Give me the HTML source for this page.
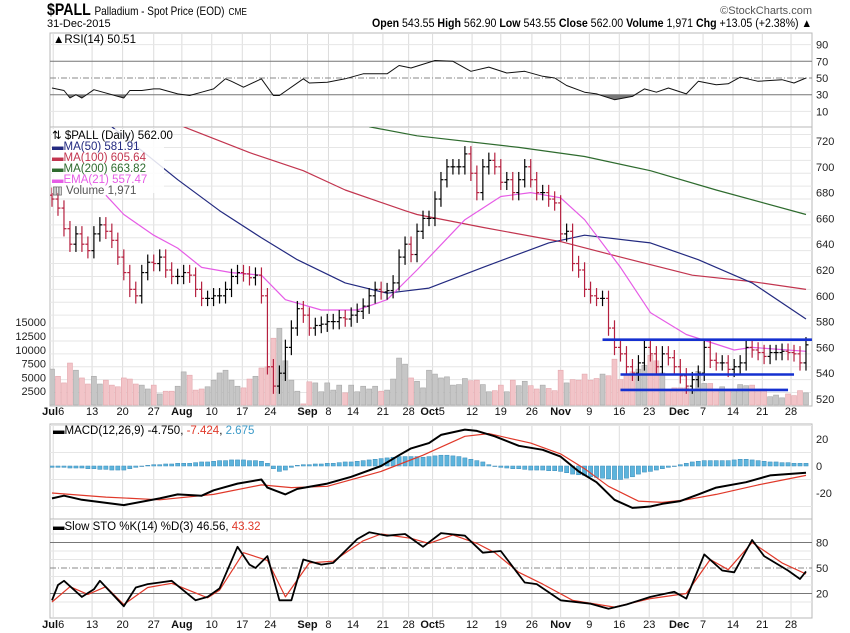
<!DOCTYPE html>
<html><head><meta charset="utf-8"><style>
body{margin:0;background:#fff;}
svg{display:block;font-family:"Liberation Sans Narrow","Liberation Sans",sans-serif;}
</style></head><body>
<svg id="chart" width="850" height="633" viewBox="0 0 850 633" xmlns="http://www.w3.org/2000/svg">
<defs>
<clipPath id="cRsi"><rect x="50" y="33" width="762" height="94"/></clipPath>
<clipPath id="cMain"><rect x="50" y="127" width="762" height="279"/></clipPath>
<clipPath id="cMacd"><rect x="50" y="424" width="762" height="95"/></clipPath>
<clipPath id="cSto"><rect x="50" y="519" width="762" height="99"/></clipPath>
<clipPath id="cLow"><rect x="50" y="95" width="762" height="32"/></clipPath>
</defs>
<text x="47" y="15" font-size="17" font-weight="bold" textLength="200" lengthAdjust="spacingAndGlyphs">$PALL <tspan font-size="12" font-weight="normal">Palladium - Spot Price (EOD)</tspan> <tspan font-size="10" font-weight="normal">CME</tspan></text>
<text x="812" y="14" font-size="11" fill="#555" text-anchor="end">©StockCharts.com</text>
<text x="47" y="27" font-size="11">31-Dec-2015</text>
<text x="372" y="27" font-size="11.5" textLength="440" lengthAdjust="spacingAndGlyphs"><tspan font-weight="bold">Open</tspan> 543.55 <tspan font-weight="bold">High</tspan> 562.90 <tspan font-weight="bold">Low</tspan> 543.55 <tspan font-weight="bold">Close</tspan> 562.00 <tspan font-weight="bold">Volume</tspan> 1,971 <tspan font-weight="bold">Chg</tspan> +13.05 (+2.38%) ▲</text>
<g id="layer"></g>
</svg>
<script>
const closes=[675,668,652,640,648,640,635,648,655,650,643,630,618,605,600,618,626,625,630,620,615,615,618,616,605,598,598,600,600,605,615,618,617,614,616,600,545,530,540,560,575,590,585,575,577,578,580,580,583,582,585,588,592,600,605,603,604,610,630,640,632,650,660,660,675,690,700,700,700,710,695,680,700,705,700,688,690,680,690,700,690,680,680,675,672,648,650,625,620,605,600,598,598,575,560,555,545,540,548,560,555,545,555,552,545,538,530,535,540,560,550,548,548,543,545,548,560,558,556,553,556,556,557,556,555,548,562];
const volumes=[6.5,5.2,4.0,7.6,6.3,4.9,3.8,5.2,3.8,4.5,3.6,3.3,4.9,4.7,3.8,3.6,2.9,3.6,2.0,2.5,2.5,3.4,6.0,5.4,2.7,2.9,3.3,4.5,5.8,6.3,4.5,3.4,3.1,4.7,5.2,6.7,6.9,12.1,13.9,8.0,4.5,2.5,0.2,4.2,4.0,2.4,4.0,2.7,3.6,2.2,3.6,2.4,3.4,2.9,3.4,2.5,2.7,4.7,8.5,7.4,4.9,4.3,3.1,6.3,5.6,4.9,5.1,3.6,3.7,4.8,4.4,4.5,3.7,2.4,2.6,3.6,2.4,4.5,3.5,4.3,3.5,2.9,3.6,3.0,2.6,6.3,4.0,4.6,4.5,5.6,4.5,4.8,5.6,5.3,8.3,4.6,5.6,6.0,6.5,7.2,9.0,8.0,5.8,2.6,3.1,3.1,3.1,2.9,6.1,3.9,3.9,2.9,3.3,2.9,2.9,3.7,3.5,3.6,2.9,2.9,1.5,1.8,1.3,2.0,1.7,2.6,2.2];
const ma50Idx=[10,13,21,28,35,41,49,56,63,72,83,89,100,108,117,126];
const ma50Val=[731,720,690,666,645,628,610,602,606,622,641,647,641,628,610,582];
const ma100Idx=[22,33,42,49,59,61,72,85,95,107,117,126];
const ma100Val=[731,711,697,682,666,663,653,642,630,616,611,605];
const ma200Idx=[53,61,78,89,100,111,126];
const ma200Val=[731,724,715,708,697,682,663];
const emaIdx=[9,12,17,21,25,30,35,39,45,51,56,61,69,75,80,85,89,95,100,106,114,117,126];
const emaVal=[678,663,647,637,622,618,616,597,589,589,597,620,659,677,680,676,659,622,587,570,558,560,557];
const rsiIdx=[0,2,3,4,5,7,12,13,15,17,18,21,23,25,27,29,30,32,35,37,38,42,43,46,49,52,56,58,60,64,67,70,73,76,79,82,84,86,89,91,94,97,99,101,103,106,108,111,113,115,118,122,124,126];
const rsiVal=[38,35,26,30,26,36,26,35,35,37,37,31,29,33,37,49,46,39,49,29,29,49,44,45,49,55,55,65,62,71,70,58,63,56,58,52,50,41,33,31,24,28,37,33,38,31,46,42,43,51,46,48,44,50];
const macdIdx=[0,2,5,12,18,21,25,27,31,35,36,39,41,46,50,55,58,60,63,65,69,71,74,78,82,85,88,91,94,97,100,102,105,108,111,116,120,126];
const macdVal=[-24,-22,-25,-29,-24,-21,-22,-18,-13,-10,-16,-21,-17,-13,-8,0,8,13,17,23,27,26,22,15,12,7,-4,-12,-25,-31,-30,-28,-26,-21,-16,-12,-7,-5];
const sigIdx=[0,9,18,27,35,40,46,55,62,69,73,80,85,89,93,98,102,106,111,118,126];
const sigVal=[-20,-23,-25,-21,-14,-16,-15,-4,8,22,24,17,9,-2,-15,-26,-27,-25,-21,-14,-7];
const histVal=[-1,-1,-1,-1.5,-1.5,-1.5,-2,-2,-2.5,-2.5,-3,-3,-3,-2,-1,0,0.5,1,1,1.5,1.5,2,2,2,2.5,3,3,3.5,4,4,4.5,4.5,4.5,4,4,3.5,2,-2,-4,-3,-1,0.5,1,1,1.5,1.5,2,2,2.5,3,3,3.5,4,4.5,5,5.5,6,6.5,7,7,7,7,6.5,7,7.5,8,8,7.5,7,6,5,4,3,1,0,-1,-1.5,-2,-2,-2.5,-3,-3,-3,-3.5,-3.5,-4,-5,-6,-6.5,-7,-8,-8.5,-9,-9.5,-10,-10,-9,-8,-6,-4.5,-4,-3,-2,-1,0,1,2,3,3.5,4,4,4,4,4,4.5,5,5,4.5,4,3.5,3,3,2.5,2.5,2,2,2];
const kIdx=[0,1,2,5,7,8,12,14,16,18,20,24,26,28,31,33,34,36,38,40,42,45,47,51,53,56,59,62,65,69,72,75,79,81,85,90,93,96,100,104,106,109,112,114,117,119,123,125,126];
const kVal=[12,30,35,16,25,35,5,27,31,33,35,12,16,26,75,54,50,64,12,12,60,54,56,84,92,88,90,75,91,88,68,70,33,31,12,8,2,7,16,22,14,66,47,45,83,64,47,37,46];
const dIdx=[0,3,6,9,12,16,20,26,28,32,36,39,43,47,52,55,60,63,67,71,74,78,82,87,94,100,106,110,113,117,122,126];
const dVal=[10,28,19,28,7,27,32,15,24,68,59,16,56,58,82,90,85,79,89,79,68,45,31,12,4,14,20,60,48,80,56,43];
const supportLevels=[566,539,527];
const supportFrom=[92,95,95];
const supportTo=[127,124,123];
const dateLabels=["Jul|6","13","20","27","Aug|","10","17","24","Sep|","8","14","21","28","Oct|5","12","19","26","Nov|","9","16","23","Dec|","7","14","21","28"];
const dateIdx=[0.2,6.7,11.8,17,21.7,26.7,31.8,36.5,42.7,46.2,50.3,55.3,59.6,63.6,70.2,75,80.2,85,89.8,94.8,99.8,104.8,108.8,113.8,118.7,123.5];
const priceTicks=[720,700,680,660,640,620,600,580,560,540,520];
const volTicks=[15000,12500,10000,7500,5000,2500];
const rsiTicks=[90,70,50,30,10];
const macdTicks=[20,0,-20];
const stoTicks=[80,50,20];

const NS="http://www.w3.org/2000/svg";
const L=50,R=812;
const X=i=>52+i*5.984;
const YP=p=>399-(p-520)*1.29;
const YV=v=>405-v*5.52;
const YR=v=>78-(v-50)*0.835;
const YM=v=>466-v*1.35;
const YS=v=>568-(v-50)*0.85;
const layer=document.getElementById('layer');
function mk(tag,attrs,parent){const e=document.createElementNS(NS,tag);for(const k in attrs)e.setAttribute(k,attrs[k]);(parent||layer).appendChild(e);return e;}
function grp(clip,parent){const g=mk('g',clip?{'clip-path':'url(#'+clip+')'}:{},parent);return g;}

const panels=[[33,127],[127,406],[424,519],[519,618]];
const panelNames=['rsi-panel','price-panel','macd-panel','stochastic-panel'];
panels.forEach((p,k)=>{
  const r=mk('rect',{x:L,y:p[0],width:R-L,height:p[1]-p[0],fill:'#fff',stroke:'#b8b8b8'});
  
  
  dateIdx.forEach(di=>{mk('line',{x1:X(di),x2:X(di),y1:p[0],y2:p[1],stroke:'#dcdcdc'});});
});
for(let p=525;p<=730;p+=10){mk('line',{x1:L,x2:R,y1:YP(p),y2:YP(p),stroke:'#e6e6e6'});}
[90,10].forEach(v=>mk('line',{x1:L,x2:R,y1:YR(v),y2:YR(v),stroke:'#e6e6e6'}));
[10,-10,30,-30].forEach(v=>mk('line',{x1:L,x2:R,y1:YM(v),y2:YM(v),stroke:'#e6e6e6'}));
[10,30,40,60,70,90].forEach(v=>mk('line',{x1:L,x2:R,y1:YS(v),y2:YS(v),stroke:'#e6e6e6'}));
[70,30].forEach(v=>mk('line',{x1:L,x2:R,y1:YR(v),y2:YR(v),stroke:'#777'}));
mk('line',{x1:L,x2:R,y1:YR(50),y2:YR(50),stroke:'#888','stroke-dasharray':'6,2,1,2'});
[80,20].forEach(v=>mk('line',{x1:L,x2:R,y1:YS(v),y2:YS(v),stroke:'#777'}));
mk('line',{x1:L,x2:R,y1:YS(50),y2:YS(50),stroke:'#888','stroke-dasharray':'6,2,1,2'});

function poly(idx,val,yf,color,w,g,name){
  const pts=idx.map((d,j)=>X(d).toFixed(1)+','+yf(val[j]).toFixed(1)).join(' ');
  const e=mk('polyline',{points:pts,fill:'none',stroke:color,'stroke-width':w,'stroke-linejoin':'round'},g);
  
  
  return e;
}

const gR=grp('cRsi');
const rsiPts=rsiIdx.map((d,j)=>X(d).toFixed(1)+','+YR(rsiVal[j]).toFixed(1));
const gLow=grp('cLow',gR);
const fillLow=mk('polygon',{points:X(rsiIdx[0])+','+YR(30)+' '+rsiPts.join(' ')+' '+X(rsiIdx[rsiIdx.length-1])+','+YR(30),fill:'#777'},gLow);


poly(rsiIdx,rsiVal,YR,'#111',1,gR,'rsi-line');

const gM=grp('cMain');
volumes.forEach((v,i)=>{
  const down=i>0&&closes[i]<closes[i-1];
  const b=mk('rect',{x:X(i)-2.5,y:YV(v),width:5,height:405-YV(v),fill:down?'#f2c4c8':'#c6c6c6',stroke:down?'#e4a8ae':'#a8a8a8','stroke-width':0.6},gM);
  
  
});
poly(ma200Idx,ma200Val,YP,'#2e6b2e',1.2,gM,'ma200-line');
poly(ma100Idx,ma100Val,YP,'#c2354f',1.2,gM,'ma100-line');
poly(ma50Idx,ma50Val,YP,'#232a80',1.2,gM,'ma50-line');
poly(emaIdx,emaVal,YP,'#e65ce6',1.2,gM,'ema21-line');
closes.forEach((c,i)=>{
  const o=i>0?closes[i-1]:c+3;
  const hi=Math.max(o,c)+6, lo=Math.min(o,c)-6;
  const col=c<o?'#b5203f':'#000';
  const g=mk('g',{stroke:col,'stroke-width':1.2},gM);
  
  
  const x=X(i);
  mk('line',{x1:x,x2:x,y1:YP(hi),y2:YP(lo)},g);
  mk('line',{x1:x-2.5,x2:x,y1:YP(o),y2:YP(o)},g);
  mk('line',{x1:x,x2:x+2.5,y1:YP(c),y2:YP(c)},g);
});
supportLevels.forEach((p,k)=>{
  const l=mk('line',{x1:X(supportFrom[k]),x2:X(supportTo[k]),y1:YP(p),y2:YP(p),stroke:'#1530d0','stroke-width':2.6},gM);
  
  
});

const gC=grp('cMacd');
histVal.forEach((h,i)=>{
  const y0=YM(0),y1=YM(h);
  const b=mk('rect',{x:X(i)-2.1,y:Math.min(y0,y1),width:4.2,height:Math.max(0.5,Math.abs(y1-y0)),fill:'#5db4dc',stroke:'#3b8cba','stroke-width':0.5},gC);
  
  
});
poly(sigIdx,sigVal,YM,'#e0392a',1.2,gC,'macd-signal-line');
poly(macdIdx,macdVal,YM,'#000',2,gC,'macd-line');

const gS=grp('cSto');
poly(dIdx,dVal,YS,'#e0392a',1.2,gS,'sto-d-line');
poly(kIdx,kVal,YS,'#000',1.8,gS,'sto-k-line');

const lg=mk('rect',{x:52,y:129,width:112,height:64,fill:'#fff','fill-opacity':0.85});


const legend=[['⇅ $PALL (Daily) 562.00','#000'],['▬MA(50) 581.91','#232a80'],['▬MA(100) 605.64','#c2354f'],['▬MA(200) 663.82','#2e6b2e'],['▬EMA(21) 557.47','#e65ce6'],['▥ Volume 1,971','#555']];
legend.forEach((t,k)=>{
  const e=mk('text',{x:52,y:139+k*11,'font-size':11.5,fill:t[1]});
  e.textContent=t[0];
  
  
});
const rl=mk('text',{x:53,y:43,'font-size':11.5,fill:'#000'});rl.textContent='▲RSI(14) 50.51';


const ml=mk('text',{x:53,y:434,'font-size':11.5,fill:'#000'});
ml.innerHTML='▬MACD(12,26,9) -4.750, <tspan fill="#e0392a">-7.424</tspan>, <tspan fill="#3b9ac8">2.675</tspan>';


const sl=mk('text',{x:53,y:530,'font-size':11.5,fill:'#000'});
sl.innerHTML='▬Slow STO %K(14) %D(3) 46.56, <tspan fill="#e0392a">43.32</tspan>';



function axisText(x,y,txt,anchor,name){const e=mk('text',{x:x,y:y,'font-size':11,fill:'#222','text-anchor':anchor});e.textContent=txt;return e;}
priceTicks.forEach(v=>axisText(816,YP(v)+4,String(v),'start','price-tick'));
rsiTicks.forEach(v=>axisText(816,YR(v)+4,String(v),'start','rsi-tick'));
macdTicks.forEach(v=>axisText(816,YM(v)+4,String(v),'start','macd-tick'));
stoTicks.forEach(v=>axisText(816,YS(v)+4,String(v),'start','sto-tick'));
volTicks.forEach(v=>axisText(46,YV(v/1000)+4,String(v),'end','volume-tick'));
[415,628].forEach(yy=>{
  dateLabels.forEach((s,k)=>{
    const parts=s.split('|');
    const e=mk('text',{x:X(dateIdx[k]),y:yy,'font-size':11,fill:'#111','text-anchor':'middle'});
    if(parts.length>1){e.innerHTML='<tspan font-weight="bold">'+parts[0]+'</tspan>'+parts[1];}
    else e.textContent=s;
    
    
  });
});
</script>
</body></html>
